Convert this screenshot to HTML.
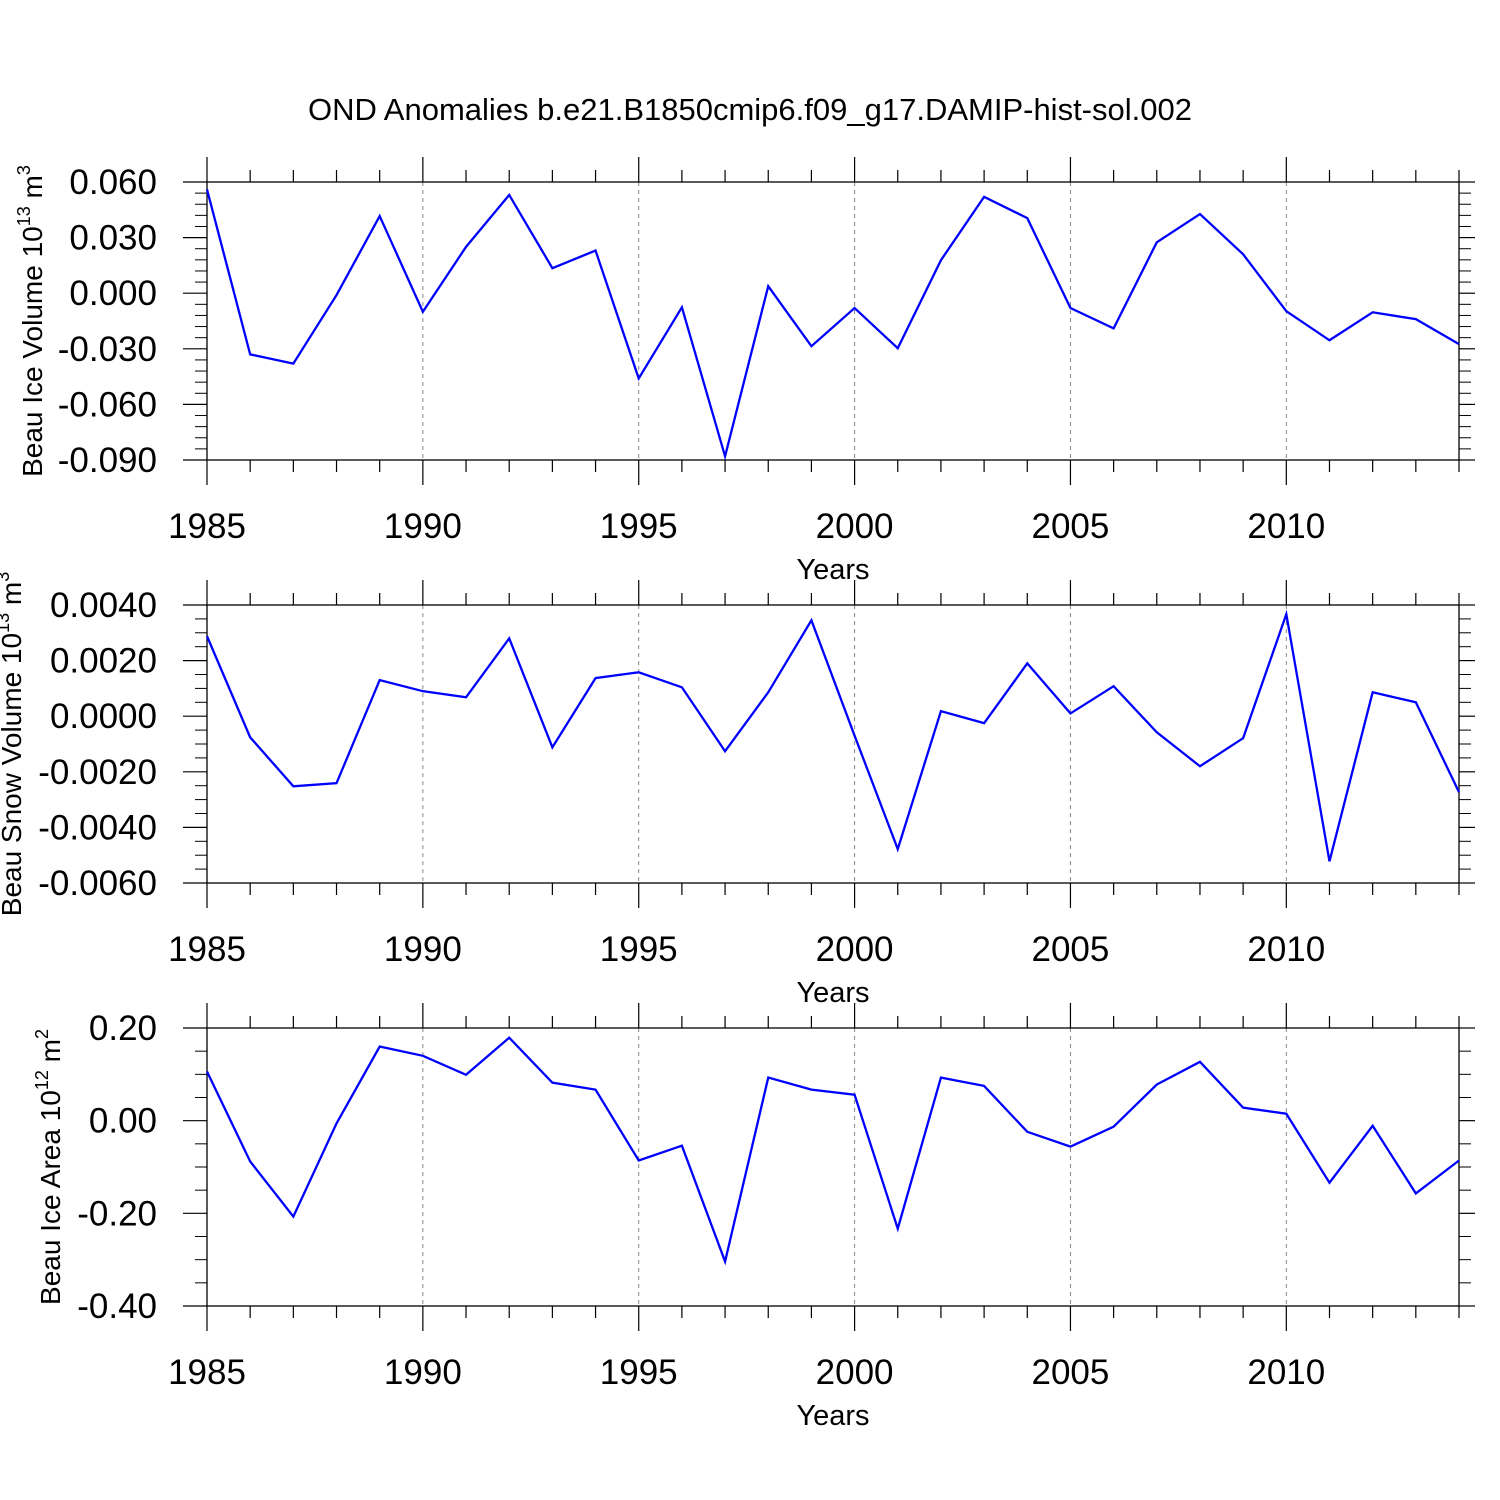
<!DOCTYPE html>
<html><head><meta charset="utf-8"><style>
html,body{margin:0;padding:0;background:#fff;}
svg{display:block;font-family:"Liberation Sans",sans-serif;}
</style></head><body>
<svg id="chart" width="1500" height="1500" viewBox="0 0 1500 1500" xmlns="http://www.w3.org/2000/svg">
<text x="750" y="120" font-size="31" text-anchor="middle">OND Anomalies b.e21.B1850cmip6.f09_g17.DAMIP-hist-sol.002</text>
</svg>
<script>
const years = [1985,1986,1987,1988,1989,1990,1991,1992,1993,1994,1995,1996,1997,1998,1999,2000,2001,2002,2003,2004,2005,2006,2007,2008,2009,2010,2011,2012,2013,2014];
const iceVolume = [0.056,-0.033,-0.038,-0.001,0.0416,-0.010,0.025,0.053,0.0135,0.023,-0.046,-0.0076,-0.088,0.0038,-0.0286,-0.008,-0.0297,0.0178,0.052,0.0405,-0.008,-0.019,0.0275,0.0427,0.021,-0.0097,-0.0254,-0.0103,-0.014,-0.0275];
const snowVolume = [0.00288,-0.00076,-0.00252,-0.00241,0.0013,0.0009,0.00068,0.0028,-0.00112,0.00137,0.00158,0.00104,-0.00126,0.00086,0.00345,-0.0007,-0.00478,0.00018,-0.00025,0.0019,0.0001,0.00108,-0.00058,-0.0018,-0.00079,0.00367,-0.00522,0.00086,0.0005,-0.00273];
const iceArea = [0.106,-0.088,-0.207,-0.006,0.16,0.14,0.099,0.179,0.082,0.067,-0.086,-0.054,-0.304,0.093,0.067,0.056,-0.233,0.093,0.075,-0.024,-0.056,-0.013,0.078,0.127,0.028,0.015,-0.134,-0.011,-0.157,-0.086];
const xTickYears = [1985,1990,1995,2000,2005,2010];
const iceVolumeTicks = [0.060,0.030,0.000,-0.030,-0.060,-0.090];
const iceVolumeLabels = ["0.060","0.030","0.000","-0.030","-0.060","-0.090"];
const snowVolumeTicks = [0.004,0.002,0,-0.002,-0.004,-0.006];
const snowVolumeLabels = ["0.0040","0.0020","0.0000","-0.0020","-0.0040","-0.0060"];
const iceAreaTicks = [0.2,0,-0.2,-0.4];
const iceAreaLabels = ["0.20","0.00","-0.20","-0.40"];

const NS = "http://www.w3.org/2000/svg";
const svg = document.getElementById('chart');
function mk(tag, attrs, parent){const e=document.createElementNS(NS,tag);for(const k in attrs)e.setAttribute(k,attrs[k]);(parent||svg).appendChild(e);return e;}
const X0=207,X1=1459;
const xs = y => X0 + (y-1985)*(X1-X0)/29;

function panel(name, top, bot, ymin, ymax, values, ticks, labels, minorN, titleHtml){
  const g = mk('g',{});
  
  
  const ys = v => bot - (v-ymin)*(bot-top)/(ymax-ymin);
  xTickYears.slice(1).forEach(yr=>{
    const l=mk('line',{x1:xs(yr),x2:xs(yr),y1:top,y2:bot,stroke:'#888','stroke-width':1,'stroke-dasharray':'4,4'},g);
    
    
  });
  const fr=mk('rect',{x:X0,y:top,width:X1-X0,height:bot-top,fill:'none',stroke:'#000','stroke-width':1.3},g);
  
  
  years.forEach(yr=>{
    const major = xTickYears.includes(yr);
    const L = major?25:12, x=xs(yr);
    mk('line',{x1:x,x2:x,y1:top,y2:top-L,stroke:'#000','stroke-width':1.2},g);
    mk('line',{x1:x,x2:x,y1:bot,y2:bot+L,stroke:'#000','stroke-width':1.2},g);
  });
  xTickYears.forEach(yr=>{
    const t=mk('text',{x:xs(yr),y:bot+78,'font-size':35,'text-anchor':'middle'},g);
    t.textContent=yr;
    
    
  });
  const step = ticks[0]-ticks[1];
  for(let i=0;i<ticks.length;i++){
    const y=ys(ticks[i]);
    mk('line',{x1:X0,x2:X0-24,y1:y,y2:y,stroke:'#000','stroke-width':1.2},g);
    mk('line',{x1:X1,x2:X1+16,y1:y,y2:y,stroke:'#000','stroke-width':1.2},g);
    if(i<ticks.length-1){
      for(let m=1;m<minorN;m++){
        const ym=ys(ticks[i]-step*m/minorN);
        mk('line',{x1:X0,x2:X0-12,y1:ym,y2:ym,stroke:'#000','stroke-width':1},g);
        mk('line',{x1:X1,x2:X1+12,y1:ym,y2:ym,stroke:'#000','stroke-width':1},g);
      }
    }
    const t=mk('text',{x:157,y:y+12,'font-size':35,'text-anchor':'end'},g);
    t.textContent=labels[i];
    
    
  }
  const xt=mk('text',{x:833,y:bot+119,'font-size':29,'text-anchor':'middle'},g);
  xt.textContent='Years';
  
  
  const cy=(top+bot)/2;
  const yt=mk('text',{x:0,y:0,'font-size':28,'text-anchor':'middle',transform:`translate(${titleHtml.x},${cy}) rotate(-90)`},g);
  yt.innerHTML=titleHtml.t;
  
  
  const pts = values.map((v,i)=>xs(years[i])+','+ys(v)).join(' ');
  const pl=mk('polyline',{points:pts,fill:'none',stroke:'#0000ff','stroke-width':2.3,'stroke-linejoin':'miter'},g);
  
  
}
panel('ice-volume',182,460,-0.090,0.060,iceVolume,iceVolumeTicks,iceVolumeLabels,5,
  {x:42,t:'Beau Ice Volume 10<tspan font-size="18" dy="-12">13</tspan><tspan dy="12"> m</tspan><tspan font-size="18" dy="-12">3</tspan>'});
panel('snow-volume',605,883,-0.006,0.004,snowVolume,snowVolumeTicks,snowVolumeLabels,4,
  {x:21,t:'Beau Snow Volume 10<tspan font-size="18" dy="-12">13</tspan><tspan dy="12"> m</tspan><tspan font-size="18" dy="-12">3</tspan>'});
panel('ice-area',1028,1306,-0.4,0.2,iceArea,iceAreaTicks,iceAreaLabels,4,
  {x:60,t:'Beau Ice Area 10<tspan font-size="18" dy="-12">12</tspan><tspan dy="12"> m</tspan><tspan font-size="18" dy="-12">2</tspan>'});
</script>
</body></html>
